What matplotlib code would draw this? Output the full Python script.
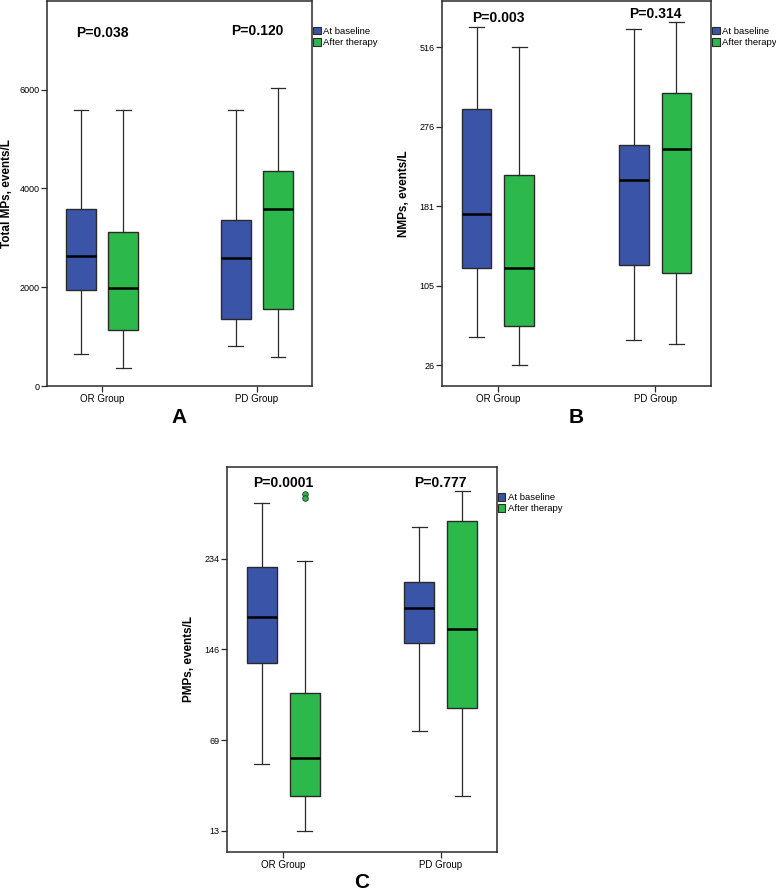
import numpy as np
import matplotlib
matplotlib.use('Agg')
import matplotlib.pyplot as plt
from matplotlib.patches import Patch
import matplotlib.transforms as mtransforms

plt.rcParams['font.family'] = ['Liberation Sans', 'DejaVu Sans']

# ---------------- data ----------------
groups = ['OR Group', 'PD Group']
series = ['At baseline', 'After therapy']

# each entry: [whisker low, Q1, median, Q3, whisker high]
a_base = [[650, 1950, 2630, 3580, 5590], [800, 1350, 2590, 3350, 5590]]
a_after = [[370, 1130, 1990, 3110, 5590], [590, 1550, 3580, 4350, 6030]]
a_fliers_base = [[], []]
a_fliers_after = [[], []]

b_base = [[54, 122, 174, 330, 576], [51.5, 124.5, 212, 254, 570]]
b_after = [[26, 65, 122, 218, 516], [47, 117.5, 249, 377, 591]]
b_fliers_base = [[], []]
b_fliers_after = [[], []]

c_base = [[54.5, 134, 177.5, 225.5, 288], [76.4, 151.7, 186, 211, 265]]
c_after = [[13, 34.6, 58.2, 108.6, 231.7], [34.6, 96.5, 165.9, 270.8, 299]]
c_fliers_base = [[], []]
c_fliers_after = [[297, 293], []]

a_ticks = [0, 2000, 4000, 6000]
b_ticks = [26, 105, 181, 276, 516]
c_ticks = [13, 69, 146, 234]

a_p = ['P=0.038', 'P=0.120']
b_p = ['P=0.003', 'P=0.314']
c_p = ['P=0.0001', 'P=0.777']

BLUE = '#3a55a8'
GREEN = '#2db84c'
EDGE = '#2a2a2a'


def make_scale(ticks):
    t = np.asarray(ticks, float)
    k = np.arange(len(t), dtype=float)

    def fwd(v):
        v = np.asarray(v, float)
        out = np.interp(v, t, k)
        out = np.where(v < t[0], (v - t[0]) / (t[1] - t[0]), out)
        out = np.where(v > t[-1], k[-1] + (v - t[-1]) / (t[-1] - t[-2]), out)
        return out

    def inv(i):
        i = np.asarray(i, float)
        out = np.interp(i, k, t)
        out = np.where(i < 0, t[0] + i * (t[1] - t[0]), out)
        out = np.where(i > k[-1], t[-1] + (i - k[-1]) * (t[-1] - t[-2]), out)
        return out
    return fwd, inv


def stats(vals, fl):
    lo, q1, med, q3, hi = vals
    return dict(whislo=lo, q1=q1, med=med, q3=q3, whishi=hi, fliers=fl)


def panel(ax, base, after, fl_base, fl_after, ticks, ylim, ylabel, pvals,
          p_y, letter, letter_y, scale=False, label_x=-0.14):
    if scale:
        ax.set_yscale('function', functions=make_scale(ticks))
    off = 0.136
    w = 0.19
    for data, fls, col, sgn in [(base, fl_base, BLUE, -1), (after, fl_after, GREEN, 1)]:
        st = [stats(d, f) for d, f in zip(data, fls)]
        pos = [g + sgn * off for g in range(len(groups))]
        ax.bxp(st, positions=pos, widths=w, patch_artist=True, showfliers=True,
               boxprops=dict(facecolor=col, edgecolor=EDGE, linewidth=1.0),
               medianprops=dict(color='black', linewidth=1.8),
               whiskerprops=dict(color=EDGE, linewidth=0.9),
               capprops=dict(color=EDGE, linewidth=0.9),
               capwidths=w * 0.5,
               flierprops=dict(marker='o', markerfacecolor=col, markeredgecolor=EDGE,
                               markersize=4, markeredgewidth=0.6))
    ax.set_xlim(-0.356, 1.356)
    ax.set_ylim(*ylim)
    ax.set_xticks(range(len(groups)))
    ax.set_xticklabels(groups, fontsize=7)
    ax.set_yticks(ticks)
    ax.set_yticklabels([str(t) for t in ticks], fontsize=6.5)
    ax.minorticks_off()
    ax.tick_params(axis='both', direction='out', length=4, width=0.9, color=EDGE, pad=1.5)
    for s in ax.spines.values():
        s.set_color(EDGE)
        s.set_linewidth(1.1)
    ax.set_ylabel(ylabel, fontsize=8.5, fontweight='bold')
    ax.yaxis.set_label_coords(label_x, 0.5)
    tr = mtransforms.blended_transform_factory(ax.transData, ax.transAxes)
    for g, (p, py) in enumerate(zip(pvals, p_y)):
        ax.text(g, py, p, transform=tr, ha='center', va='center',
                fontsize=10, fontweight='bold')
    handles = [Patch(facecolor=BLUE, edgecolor=EDGE, linewidth=0.8, label=series[0]),
               Patch(facecolor=GREEN, edgecolor=EDGE, linewidth=0.8, label=series[1])]
    ax.legend(handles=handles, loc='upper left', bbox_to_anchor=(1.0, 0.935),
              frameon=False, fontsize=6.8, handlelength=0.8, handleheight=0.9,
              handletextpad=0.25, borderpad=0, borderaxespad=0.1, labelspacing=0.2)
    bb = ax.get_position()
    ax.figure.text((bb.x0 + bb.x1) / 2, letter_y, letter, ha='center', va='center',
                   fontsize=15, fontweight='bold')


fig = plt.figure(figsize=(7.76, 8.90), dpi=100)
W, H = 776, 890


def ax_px(l, r, t, b):
    return fig.add_axes([l / W, 1 - b / H, (r - l) / W, (b - t) / H])


axA = ax_px(47, 312, 0.6, 386)
axB = ax_px(442, 711, 0.6, 386)
axC = ax_px(227, 497, 467, 852)

panel(axA, a_base, a_after, a_fliers_base, a_fliers_after, a_ticks, (0, 7800),
      'Total MPs, events/L', a_p, [0.917, 0.920], 'A', 1 - 418 / H,
      label_x=-0.128)
panel(axB, b_base, b_after, b_fliers_base, b_fliers_after, b_ticks, (5.5, 656),
      'NMPs, events/L', b_p, [0.956, 0.966], 'B', 1 - 418 / H, scale=True,
      label_x=-0.119)
panel(axC, c_base, c_after, c_fliers_base, c_fliers_after, c_ticks, (0, 322.7),
      'PMPs, events/L', c_p, [0.959, 0.959], 'C', 1 - 882 / H, scale=True,
      label_x=-0.118)

fig.savefig('out.png', dpi=100)
